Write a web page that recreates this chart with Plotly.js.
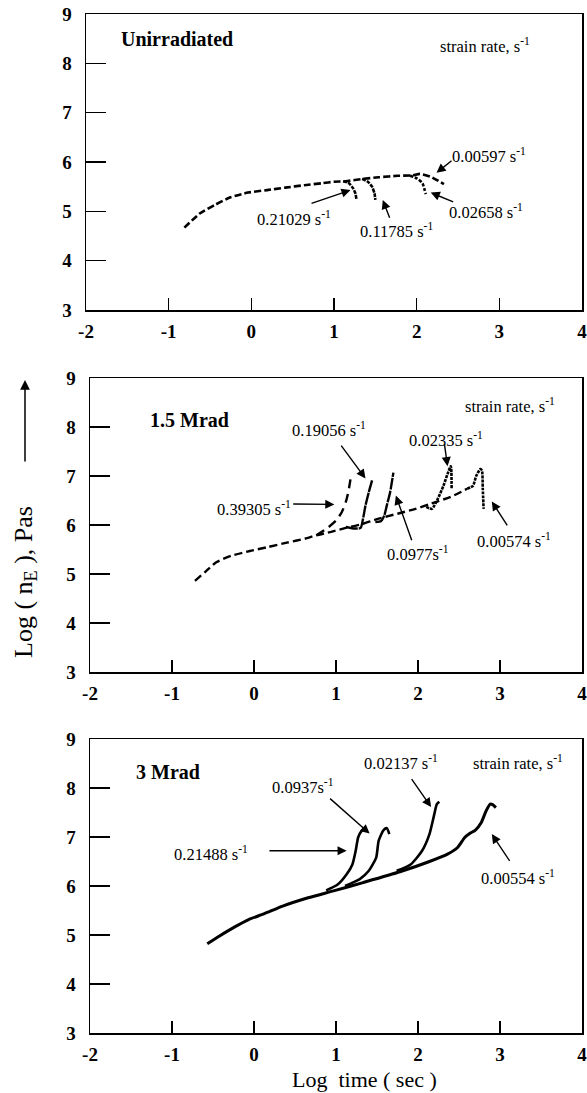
<!DOCTYPE html>
<html>
<head>
<meta charset="utf-8">
<script src="https://cdn.plot.ly/plotly-3.0.1.min.js"></script>
<style>
  html, body { margin: 0; padding: 0; background: #fff; }
  #chart { width: 587px; height: 1093px; }
</style>
</head>
<body>
<div id="chart"></div>
<script>
// ---------- tick labels ----------
const xTicks = [-2, -1, 0, 1, 2, 3, 4];
const yTicks = [3, 4, 5, 6, 7, 8, 9];

// ---------- panel titles / texts ----------
const panelNames = ['Unirradiated', '1.5 Mrad', '3 Mrad'];
const legendTitle = 'strain rate, s<sup>-1</sup>';
const yTitle = 'Log ( n<sub>E</sub> ), Pas';
const xTitle = 'Log\u00a0 time ( sec )';

// ---------- Panel 1 : Unirradiated ----------
const unirrRates = ['0.00597', '0.21029', '0.11785', '0.02658'];
const unirrMainX = [-0.81, -0.62, -0.44, -0.26, -0.04, 0.19, 0.41, 0.64, 0.86, 1.00, 1.14, 1.36, 1.54, 1.77, 1.95, 2.04, 2.17, 2.33];
const unirrMainY = [4.67, 4.96, 5.13, 5.28, 5.38, 5.43, 5.48, 5.53, 5.57, 5.60, 5.61, 5.66, 5.69, 5.72, 5.73, 5.76, 5.70, 5.55];
const unirrB1X = [1.11, 1.18, 1.23, 1.26, 1.27];
const unirrB1Y = [5.61, 5.57, 5.47, 5.36, 5.25];
const unirrB2X = [1.34, 1.41, 1.46, 1.49, 1.50];
const unirrB2Y = [5.66, 5.60, 5.50, 5.36, 5.23];
const unirrB3X = [1.92, 2.01, 2.07, 2.09, 2.11];
const unirrB3Y = [5.72, 5.66, 5.57, 5.47, 5.35];

// ---------- Panel 2 : 1.5 Mrad ----------
const mrad15Rates = ['0.19056', '0.02335', '0.39305', '0.0977', '0.00574'];
const mrad15MainX = [-0.72, -0.59, -0.46, -0.28, -0.05, 0.17, 0.40, 0.62, 0.76, 0.94, 1.12, 1.30, 1.52, 1.75, 1.97, 2.15, 2.42, 2.60];
const mrad15MainY = [4.86, 5.05, 5.24, 5.37, 5.47, 5.55, 5.64, 5.72, 5.79, 5.86, 5.94, 6.01, 6.13, 6.23, 6.33, 6.43, 6.59, 6.74];
const mrad15B39305X = [0.76, 0.89, 1.00, 1.07, 1.12, 1.15, 1.18];
const mrad15B39305Y = [5.79, 5.93, 6.09, 6.26, 6.47, 6.67, 6.97];
const mrad15B19056X = [1.12, 1.21, 1.30, 1.33, 1.36, 1.40, 1.44];
const mrad15B19056Y = [5.96, 5.93, 5.94, 6.13, 6.40, 6.67, 6.91];
const mrad15B0977X = [1.48, 1.55, 1.59, 1.62, 1.66, 1.70];
const mrad15B0977Y = [6.06, 6.08, 6.20, 6.40, 6.67, 7.07];
const mrad15B02335X = [2.10, 2.17, 2.24, 2.31, 2.36, 2.40, 2.41];
const mrad15B02335Y = [6.37, 6.33, 6.53, 6.80, 7.04, 7.20, 6.74];
const mrad15B00574X = [2.60, 2.67, 2.71, 2.76, 2.78, 2.79, 2.80];
const mrad15B00574Y = [6.74, 6.80, 7.00, 7.14, 7.11, 6.74, 6.33];

// ---------- Panel 3 : 3 Mrad ----------
const mrad3Rates = ['0.0937', '0.02137', '0.21488', '0.00554'];
const mrad3MainX = [-0.57, -0.42, -0.24, -0.06, 0.12, 0.35, 0.66, 0.97, 1.33, 1.78, 2.14, 2.36, 2.48, 2.57, 2.63, 2.70, 2.77, 2.83, 2.88, 2.91, 2.95];
const mrad3MainY = [4.82, 4.98, 5.16, 5.32, 5.43, 5.59, 5.76, 5.90, 6.07, 6.29, 6.50, 6.65, 6.78, 6.99, 7.07, 7.14, 7.29, 7.53, 7.67, 7.66, 7.60];
const mrad3B21488X = [0.88, 1.02, 1.13, 1.20, 1.24, 1.27, 1.31, 1.34];
const mrad3B21488Y = [5.91, 6.03, 6.24, 6.44, 6.72, 6.99, 7.12, 7.16];
const mrad3B0937X = [1.11, 1.29, 1.40, 1.49, 1.52, 1.58, 1.62, 1.65];
const mrad3B0937Y = [6.00, 6.14, 6.31, 6.58, 6.92, 7.14, 7.18, 7.06];
const mrad3B02137X = [1.74, 1.91, 2.05, 2.14, 2.19, 2.23, 2.26];
const mrad3B02137Y = [6.31, 6.44, 6.72, 7.06, 7.40, 7.67, 7.72];

// ---------- build ----------
const W = 587, H = 1093;
function line(x, y, ax, dash, width) {
  return {
    x: x, y: y, type: 'scatter', mode: 'lines',
    xaxis: 'x' + ax, yaxis: 'y' + ax,
    line: { color: '#000', width: width, dash: dash, shape: 'spline', smoothing: 0.6 },
    hoverinfo: 'skip', showlegend: false
  };
}
const data = [
  line(unirrMainX, unirrMainY, '', '7px,3px', 2.6),
  line(unirrB1X, unirrB1Y, '', '4px,1px', 2.6),
  line(unirrB2X, unirrB2Y, '', '4px,1px', 2.6),
  line(unirrB3X, unirrB3Y, '', '3px,2px', 2.6),

  line(mrad15MainX, mrad15MainY, '2', '8px,4px', 2.4),
  line(mrad15B39305X, mrad15B39305Y, '2', '9px,6px', 2.4),
  line(mrad15B19056X, mrad15B19056Y, '2', '12px,1px', 2.4),
  line(mrad15B0977X, mrad15B0977Y, '2', '12px,1px', 2.4),
  line(mrad15B02335X, mrad15B02335Y, '2', '3px,1px', 2.6),
  line(mrad15B00574X, mrad15B00574Y, '2', '3px,1px', 2.6),

  line(mrad3MainX, mrad3MainY, '3', 'solid', 3),
  line(mrad3B21488X, mrad3B21488Y, '3', 'solid', 2.6),
  line(mrad3B0937X, mrad3B0937Y, '3', 'solid', 2.6),
  line(mrad3B02137X, mrad3B02137Y, '3', 'solid', 2.6)
];

const serif = '"Liberation Serif", "Times New Roman", serif';
function xax(d, anchor) {
  return {
    domain: d, anchor: anchor, range: [-2, 4], tickvals: xTicks,
    ticktext: xTicks.map(String),
    ticks: 'inside', ticklen: 12, tickwidth: 1.4, tickcolor: '#000',
    showline: true, mirror: true, linewidth: 1.5, linecolor: '#000',
    showgrid: false, zeroline: false, fixedrange: true,
    ticklabelstandoff: 4, ticklabeloverflow: 'allow',
    tickfont: { family: serif, size: 19, color: '#000', weight: 'bold' }
  };
}
function yax(d, anchor) {
  return {
    domain: d, anchor: anchor, range: [3, 9], tickvals: yTicks,
    ticks: 'inside', ticklen: 20, tickwidth: 1.4, tickcolor: '#000',
    showline: true, mirror: true, linewidth: 1.5, linecolor: '#000',
    showgrid: false, zeroline: false, fixedrange: true,
    ticklabelstandoff: 9, ticklabeloverflow: 'allow',
    tickfont: { family: serif, size: 19, color: '#000', weight: 'bold' }
  };
}
const xd1 = [86 / W, 582 / W], xd2 = [90 / W, 582 / W];
const yd1 = [1 - 310 / H, 1 - 14 / H], yd2 = [1 - 672 / H, 1 - 378 / H], yd3 = [1 - 1033 / H, 1 - 739 / H];

const ann = [];
function txt(ax, x, y, text, size, bold) {
  ann.push({ xref: 'x' + ax, yref: 'y' + ax, x: x, y: y, text: text, showarrow: false,
    xanchor: 'left', yanchor: 'middle',
    font: { family: serif, size: size || 16, color: '#000', weight: bold ? 'bold' : 'normal' } });
}
function arr(ax, tx, ty, hx, hy) {
  ann.push({ xref: 'x' + ax, yref: 'y' + ax, axref: 'x' + ax, ayref: 'y' + ax,
    x: hx, y: hy, ax: tx, ay: ty, text: '', showarrow: true,
    arrowhead: 2, arrowsize: 1.3, arrowwidth: 1.4, arrowcolor: '#000', standoff: 0, startstandoff: 0 });
}
const s1 = ' s<sup>-1</sup>';
// panel 1
txt('', -1.6, 8.5, panelNames[0], 20, true);
txt('', 2.26, 8.37, legendTitle, 16.5);
txt('', 2.40, 6.14, unirrRates[0] + s1, 16.5);
arr('', 2.44, 6.05, 2.24, 5.78);
txt('', 0.05, 4.86, unirrRates[1] + s1, 16.5);
arr('', 0.71, 5.15, 1.20, 5.43);
txt('', 1.29, 4.62, unirrRates[2] + s1, 16.5);
arr('', 1.68, 4.84, 1.59, 5.23);
txt('', 2.37, 4.99, unirrRates[3] + s1, 16.5);
arr('', 2.46, 5.18, 2.17, 5.38);
// panel 2
txt('2', -1.29, 8.14, panelNames[1], 20, true);
txt('2', 2.55, 8.43, legendTitle, 16.5);
txt('2', 0.44, 7.95, mrad15Rates[0] + s1, 16.5);
arr('2', 1.05, 7.65, 1.36, 6.95);
txt('2', 1.86, 7.75, mrad15Rates[1] + s1, 16.5);
arr('2', 2.32, 7.68, 2.36, 7.20);
txt('2', -0.48, 6.33, mrad15Rates[2] + s1, 16.5);
arr('2', 0.46, 6.43, 0.98, 6.42);
txt('2', 1.60, 5.42, mrad15Rates[3] + 's<sup>-1</sup>', 16.5);
arr('2', 1.93, 5.66, 1.73, 6.60);
txt('2', 2.69, 5.69, mrad15Rates[4] + s1, 16.5);
arr('2', 3.10, 5.96, 2.90, 6.48);
// panel 3
txt('3', -1.46, 8.32, panelNames[2], 20, true);
txt('3', 2.65, 8.52, legendTitle, 16.5);
txt('3', 0.20, 8.04, mrad3Rates[0] + 's<sup>-1</sup>', 16.5);
arr('3', 0.91, 7.81, 1.41, 7.07);
txt('3', 1.32, 8.52, mrad3Rates[1] + s1, 16.5);
arr('3', 1.91, 8.21, 2.16, 7.61);
txt('3', -1.00, 6.66, mrad3Rates[2] + s1, 16.5);
arr('3', 0.17, 6.72, 1.13, 6.72);
txt('3', 2.74, 6.17, mrad3Rates[3] + s1, 16.5);
arr('3', 3.13, 6.48, 2.90, 7.06);

// y title + arrow, x title
ann.push({ xref: 'paper', yref: 'paper', x: 25 / W, y: 1 - 582 / H, text: yTitle, textangle: -90,
  showarrow: false, xanchor: 'center', yanchor: 'middle',
  font: { family: serif, size: 26, color: '#000' } });
ann.push({ xref: 'paper', yref: 'paper', axref: 'paper', ayref: 'paper',
  x: 25 / W, y: 1 - 380 / H, ax: 25 / W, ay: 1 - 463 / H, text: '', showarrow: true,
  arrowhead: 2, arrowsize: 1.3, arrowwidth: 1.5, arrowcolor: '#000', standoff: 0 });
ann.push({ xref: 'paper', yref: 'paper', x: 364 / W, y: 1 - 1079 / H, text: xTitle,
  showarrow: false, xanchor: 'center', yanchor: 'middle',
  font: { family: serif, size: 22, color: '#000' } });

const layout = {
  width: W, height: H, margin: { l: 0, r: 0, t: 0, b: 0 },
  paper_bgcolor: '#fff', plot_bgcolor: '#fff', showlegend: false,
  xaxis: xax(xd1, 'y'), yaxis: yax(yd1, 'x'),
  xaxis2: xax(xd2, 'y2'), yaxis2: yax(yd2, 'x2'),
  xaxis3: xax(xd2, 'y3'), yaxis3: yax(yd3, 'x3'),
  annotations: ann
};

Plotly.newPlot('chart', data, layout, { staticPlot: true, displayModeBar: false });
</script>
</body>
</html>
